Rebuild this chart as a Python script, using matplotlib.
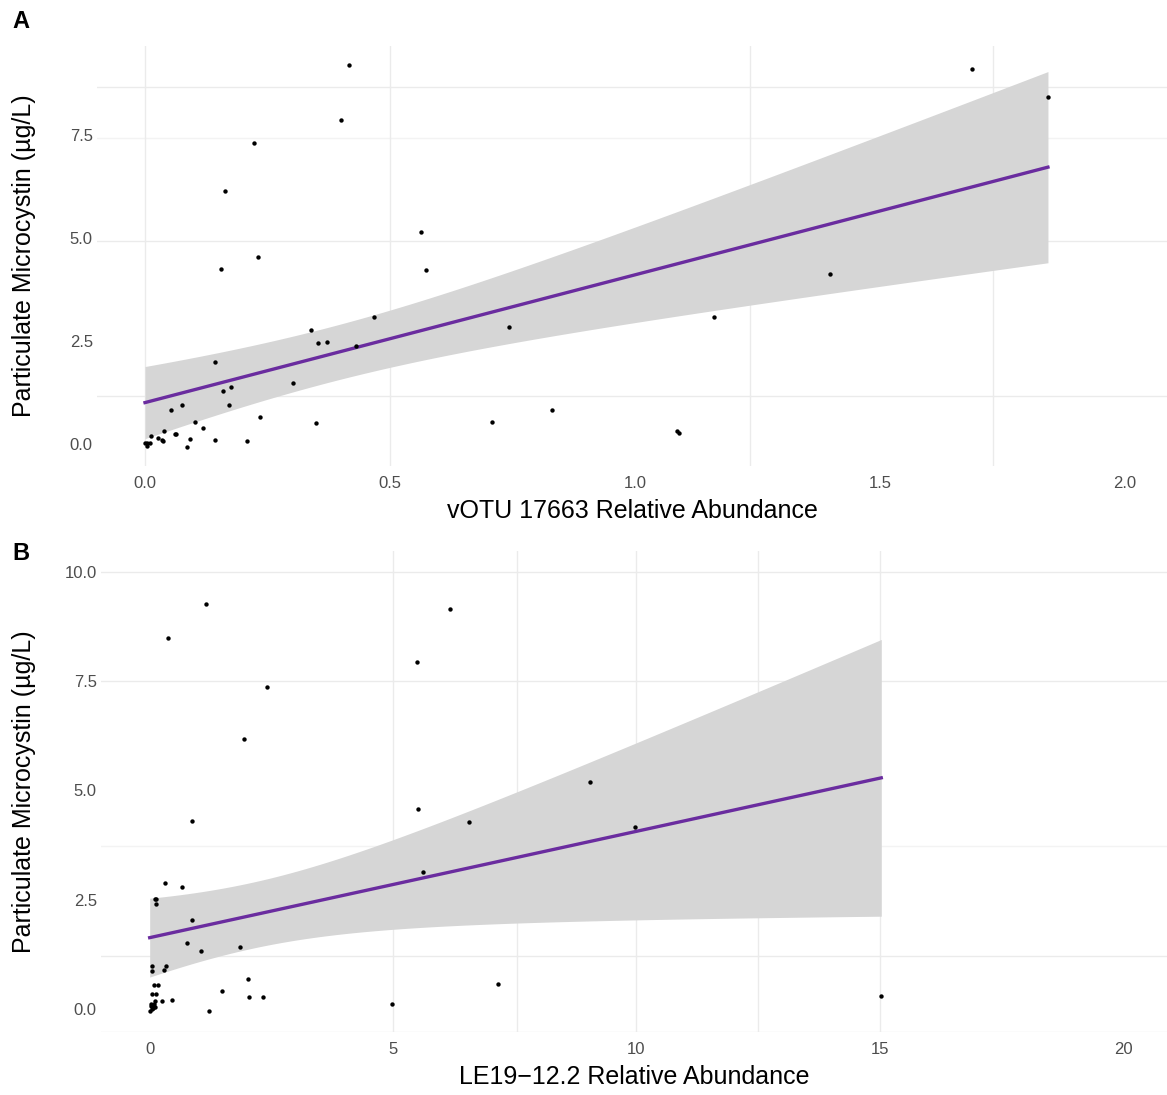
import numpy as np
import matplotlib
matplotlib.use('Agg')
import matplotlib.pyplot as plt

plt.rcParams['font.family'] = ['Liberation Sans', 'DejaVu Sans']

# Panel A: vOTU 17663
xa = [0.417, 0.400, 0.223, 0.163, 0.155, 0.230, 0.563, 0.574, 0.468, 0.338,
      0.353, 0.371, 0.431, 0.743, 0.143, 0.302, 0.160, 0.176, 0.172, 0.075,
      0.054, 0.234, 0.349, 0.708, 0.830, 0.102, 0.118, 0.039, 0.062, 0.064,
      0.0125, 0.026, 0.036, 0.034, 0.091, 0.142, 0.209, 0.085, 0.0, 0.005,
      0.010, 0.004, 1.688, 1.843, 1.398, 1.161, 1.086, 1.090]
ya = [9.20, 7.87, 7.31, 6.14, 4.25, 4.55, 5.15, 4.22, 3.09, 2.76,
      2.45, 2.49, 2.37, 2.84, 1.99, 1.48, 1.28, 1.39, 0.95, 0.95,
      0.82, 0.66, 0.52, 0.54, 0.84, 0.53, 0.38, 0.32, 0.25, 0.25,
      0.20, 0.15, 0.07, 0.10, 0.13, 0.09, 0.07, -0.06, 0.04, 0.04,
      0.04, -0.05, 9.11, 8.42, 4.12, 3.09, 0.33, 0.27]

# Panel B: LE19-12.2
xb = [1.16, 0.376, 2.42, 1.94, 0.87, 5.50, 6.16, 5.52, 6.55, 5.62,
      0.32, 0.66, 0.10, 0.14, 0.14, 0.87, 0.76, 1.06, 1.86, 0.04,
      0.04, 0.30, 0.34, 2.01, 0.08, 0.18, 0.04, 0.14, 1.49, 0.46,
      0.26, 2.05, 2.32, 1.22, 4.98, 7.16, 0.0, 0.02, 0.08, 0.10,
      0.03, 0.07, 9.04, 9.98, 15.03, 0.05, 0.06, 0.11]
yb = [9.26, 8.48, 7.37, 6.18, 4.30, 7.93, 9.16, 4.58, 4.27, 3.14,
      2.88, 2.80, 2.52, 2.52, 2.40, 2.03, 1.51, 1.32, 1.42, 0.97,
      0.86, 0.88, 0.98, 0.69, 0.55, 0.55, 0.35, 0.35, 0.41, 0.21,
      0.17, 0.28, 0.28, -0.04, 0.12, 0.56, -0.04, 0.06, 0.12, 0.17,
      0.12, 0.02, 5.20, 4.17, 0.30, 0.0, 0.08, 0.04]

ylab = 'Particulate Microcystin (µg/L)'


def lm_band(x, y, t=2.01):
    x = np.asarray(x); y = np.asarray(y)
    n = len(x)
    b, a = np.polyfit(x, y, 1)
    res = y - (a + b * x)
    s = np.sqrt(np.sum(res**2) / (n - 2))
    xs = np.linspace(x.min(), x.max(), 100)
    se = s * np.sqrt(1 / n + (xs - x.mean())**2 / np.sum((x - x.mean())**2))
    fit = a + b * xs
    return xs, fit, fit - t * se, fit + t * se


def panel(ax, x, y, xlim, ylim, xticks, xtl, yticks, ytl, hgrid, vgrid, xlabel, ylab_x):
    ax.set_xlim(*xlim)
    ax.set_ylim(*ylim)
    for h, c in hgrid:
        ax.axhline(h, color=c, lw=1.0, zorder=0)
    for v in vgrid:
        ax.axvline(v, color='#ebebeb', lw=1.0, zorder=0)
    xs, fit, lo, hi = lm_band(x, y)
    ax.fill_between(xs, lo, hi, color='#d6d6d6', lw=0, zorder=1)
    ax.plot(xs, fit, color='#6a2c9f', lw=2.4, zorder=2)
    ax.scatter(x, y, s=10, color='black', zorder=3, lw=0)
    ax.set_xticks(xticks)
    ax.set_xticklabels(xtl)
    ax.set_yticks(yticks)
    ax.set_yticklabels(ytl)
    ax.tick_params(length=0, labelsize=12, labelcolor='#4d4d4d')
    ax.tick_params(axis='y', pad=3)
    ax.tick_params(axis='x', pad=7)
    for sp in ax.spines.values():
        sp.set_visible(False)
    ax.set_xlabel(xlabel, fontsize=18, labelpad=6)
    ax.set_ylabel(ylab, fontsize=18)
    ax.yaxis.set_label_coords(ylab_x, 0.5)


fig = plt.figure(figsize=(11.67, 10.95), dpi=100)
W, H = 1167, 1095

# panel A
axA = fig.add_axes([97 / W, 1 - 466 / H, (1167 - 97) / W, (466 - 46) / H])
panel(axA, xa, ya, (-0.098, 2.086), (-0.53, 9.66),
      [0, 0.5, 1.0, 1.5, 2.0], ['0.0', '0.5', '1.0', '1.5', '2.0'],
      [0, 2.5, 5.0, 7.5], ['0.0', '2.5', '5.0', '7.5'],
      [(8.66, '#ebebeb'), (7.43, '#f3f3f3'), (4.92, '#ebebeb'), (1.18, '#ebebeb')],
      [0, 0.5, 1.235, 1.73], 'vOTU 17663 Relative Abundance', (36 - 97) / 1070)

# panel B
axB = fig.add_axes([101 / W, 1 - 1032 / H, (1167 - 101) / W, (1032 - 551) / H])
panel(axB, xb, yb, (-1.0, 20.9), (-0.53, 10.48),
      [0, 5, 10, 15, 20], ['0', '5', '10', '15', '20'],
      [0, 2.5, 5.0, 7.5, 10.0], ['0.0', '2.5', '5.0', '7.5', '10.0'],
      [(10.0, '#ebebeb'), (7.5, '#ebebeb'), (3.73, '#f3f3f3'), (1.22, '#ebebeb'), (-0.53, '#ebebeb')],
      [5, 7.55, 10, 12.5, 15], 'LE19\u221212.2 Relative Abundance', (36 - 101) / 1066)

fig.text(12 / W, 1 - 22 / H, 'A', fontsize=17, fontweight='bold', va='center')
fig.text(12 / W, 1 - 553 / H, 'B', fontsize=17, fontweight='bold', va='center')

fig.savefig('out.png', dpi=100)
